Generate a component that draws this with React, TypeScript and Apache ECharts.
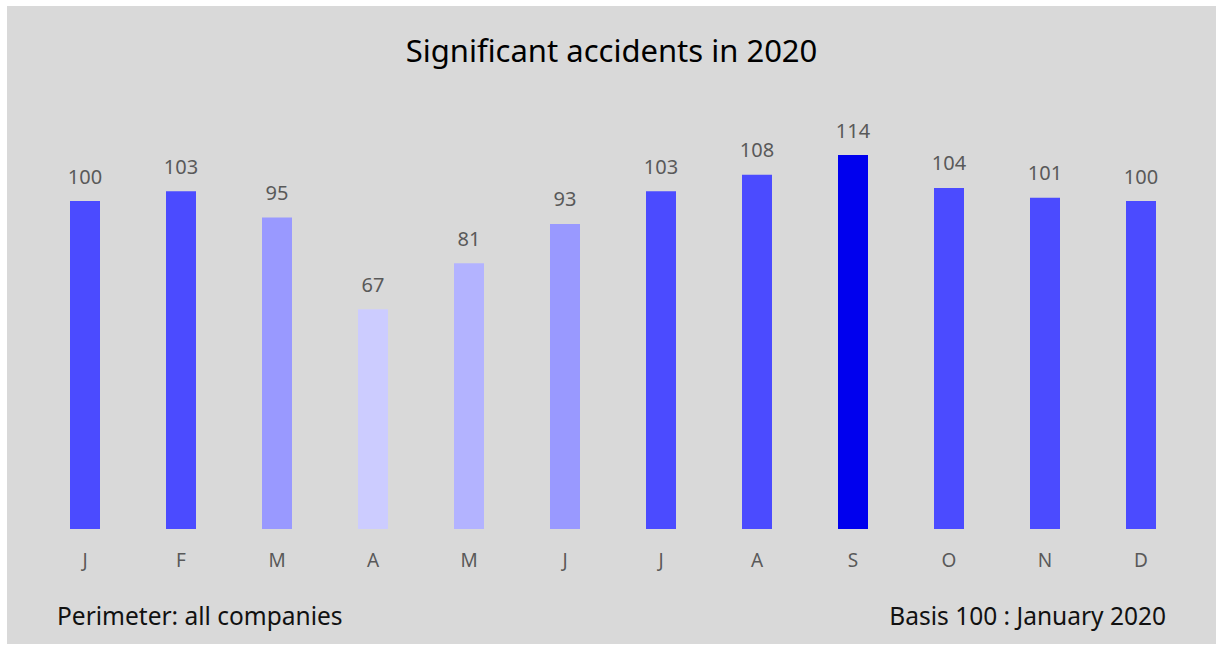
import React, { useEffect, useRef } from "react";
import * as echarts from "echarts";

const months = ["J", "F", "M", "A", "M", "J", "J", "A", "S", "O", "N", "D"];
const values = [100, 103, 95, 67, 81, 93, 103, 108, 114, 104, 101, 100];
const barColors = [
  "#4b4bff", "#4b4bff", "#9999ff", "#ccccff", "#b3b3ff", "#9999ff",
  "#4b4bff", "#4b4bff", "#0000ee", "#4b4bff", "#4b4bff", "#4b4bff",
];
const titleText = "Significant accidents in 2020";
const leftNote = "Perimeter: all companies";
const rightNote = "Basis 100 : January 2020";

export default function App() {
  const ref = useRef<HTMLDivElement>(null);
  useEffect(() => {
    const chart = echarts.init(ref.current!, null, { renderer: "svg" });
    const font = "'Noto Sans', sans-serif";
    chart.setOption({
      animation: false,
      backgroundColor: "#d9d9d9",
      title: {
        text: titleText,
        left: "center",
        top: 23,
        textStyle: { fontFamily: font, fontSize: 31, fontWeight: "normal", color: "#000" },
      },
      grid: { left: 30, width: 1152, top: 129.4, bottom: 115 },
      xAxis: {
        type: "category",
        data: months,
        axisLine: { show: false },
        axisTick: { show: false },
        axisLabel: { color: "#595959", fontFamily: font, fontSize: 19, margin: 21 },
      },
      yAxis: {
        type: "value",
        min: 0,
        max: 120,
        show: false,
        splitLine: { show: false },
      },
      series: [
        {
          type: "bar",
          data: values.map((v, i) => ({ value: v, itemStyle: { color: barColors[i] } })),
          barWidth: 30,
          label: {
            show: true,
            position: "top",
            distance: 15,
            color: "#595959",
            fontFamily: font,
            fontSize: 20,
          },
        },
      ],
      graphic: [
        {
          type: "text",
          left: 50,
          top: 597,
          style: { text: leftNote, fontFamily: font, fontSize: 24.5, fill: "#111" },
        },
        {
          type: "text",
          right: 50,
          top: 597,
          style: { text: rightNote, fontFamily: font, fontSize: 24.5, fill: "#111" },
        },
      ],
    });
    return () => chart.dispose();
  }, []);
  return (
    <div
      ref={ref}
      style={{ position: "absolute", left: 7, top: 6, width: 1209, height: 638 }}
    />
  );
}
